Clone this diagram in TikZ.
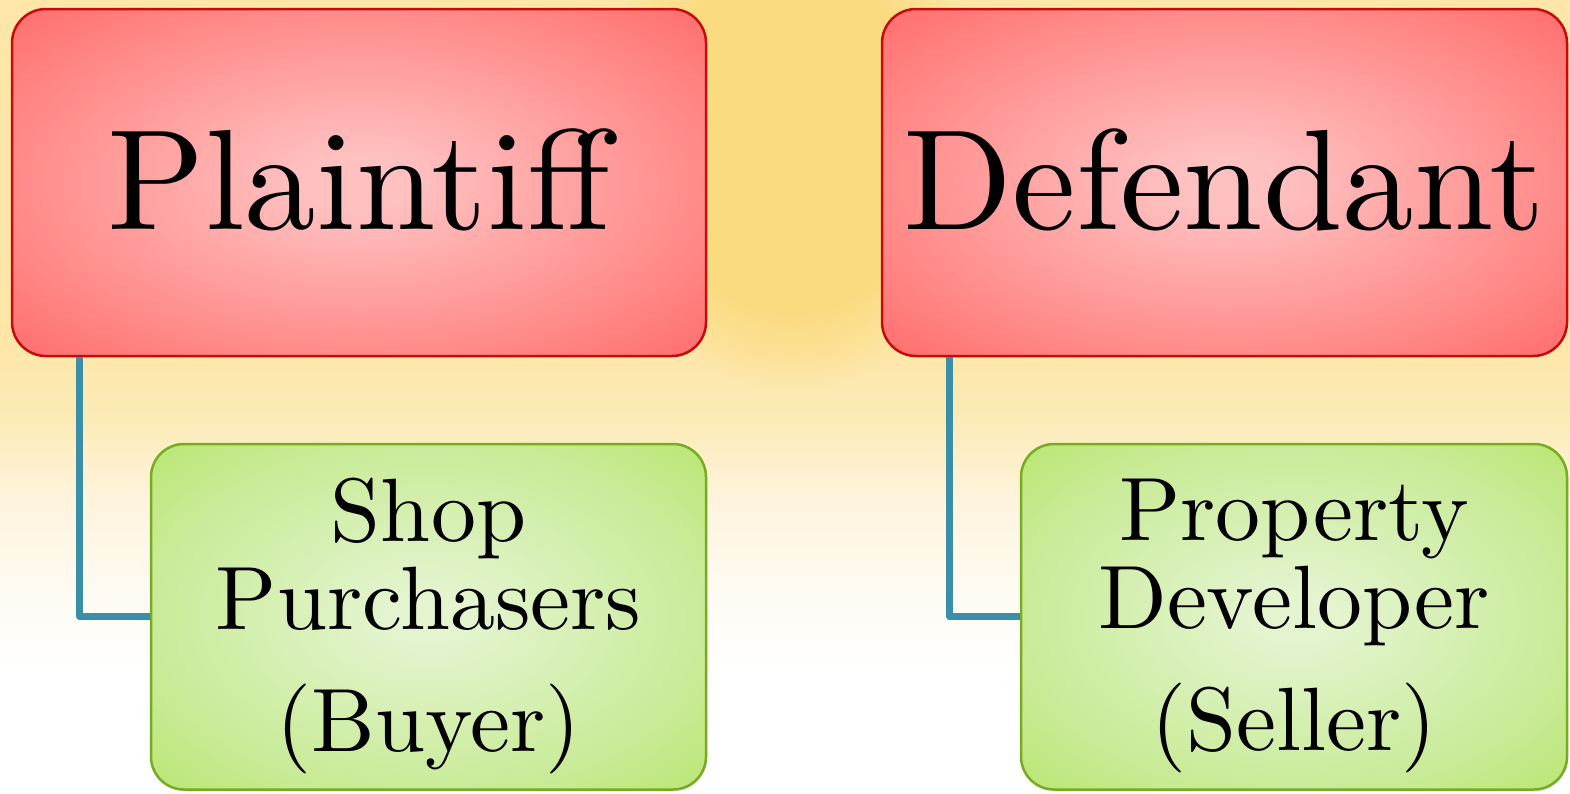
\documentclass[tikz,border=0pt]{standalone}
\usepackage{fontspec}
\setmainfont{lmroman10-regular.otf}
\usetikzlibrary{fadings,shadows}

% palette
\definecolor{bgtop}{HTML}{FDE6A8}
\definecolor{bgA}{HTML}{FCEBB8}
\definecolor{bgB}{HTML}{FEF4DD}
\definecolor{bgC}{HTML}{FEFAF0}
\definecolor{glowc}{HTML}{FBDA7C}
\definecolor{redmid}{HTML}{FFC0C0}
\definecolor{rededge}{HTML}{FF8A88}
\definecolor{redcorner}{HTML}{FF6C6C}
\definecolor{redline}{HTML}{C80A0A}
\definecolor{grnmid}{HTML}{E3F4CE}
\definecolor{grnedge}{HTML}{C9EB98}
\definecolor{grncorner}{HTML}{B9E672}
\definecolor{grnline}{HTML}{76AC20}
\definecolor{linkc}{HTML}{3A8FA8}

% box fills: light centre, stronger rim
\pgfdeclareradialshading{redglow}{\pgfpoint{0bp}{0bp}}{color(0bp)=(redmid); color(4bp)=(redmid); color(25bp)=(rededge); color(36bp)=(redcorner); color(50bp)=(redcorner)}
\pgfdeclareradialshading{greenglow}{\pgfpoint{0bp}{0bp}}{color(0bp)=(grnmid); color(4bp)=(grnmid); color(25bp)=(grnedge); color(36bp)=(grncorner); color(50bp)=(grncorner)}
% page backdrop: warm top fading to white at the bottom
\pgfdeclareverticalshading{backdrop}{100bp}{color(0bp)=(white); color(33bp)=(white); color(38.4bp)=(bgC); color(43.5bp)=(bgB); color(48.5bp)=(bgA); color(53bp)=(bgtop); color(100bp)=(bgtop)}
% soft-edged mask with a wide flat core for the central warm patch
\pgfdeclareradialshading{flatglowmask}{\pgfpoint{0bp}{0bp}}{color(0bp)=(white); color(17bp)=(white); color(25bp)=(black); color(50bp)=(black)}
\pgfdeclarefading{flatglow}{\pgfuseshading{flatglowmask}}

\begin{document}
\begin{tikzpicture}[x=1pt,y=-1pt,
  redbox/.style={draw=redline, line width=2.5pt, rounded corners=34pt,
    shade, shading=redglow, inner sep=0pt, minimum height=347pt,
    text depth=7pt, font=\fontsize{143}{143}\selectfont},
  greenbox/.style={draw=grnline, line width=2.5pt, rounded corners=33pt,
    shade, shading=greenglow, inner sep=0pt, minimum height=345.5pt,
    drop shadow={shadow xshift=1.2pt, shadow yshift=-1.5pt, opacity=0.22}},
  greentext/.style={inner sep=0pt, align=center,
    font=\fontsize{90}{88}\selectfont},
  link/.style={draw=linkc, line width=7pt, line join=round}]

\useasboundingbox (0,0) rectangle (1570,793);

% backdrop
\shade[shading=backdrop] (0,0) rectangle (1570,793);
\fill[glowc, path fading=flatglow, fill opacity=0.9] (792,140) ellipse [x radius=200, y radius=250];

% parties
\node[redbox, minimum width=694pt] (plaintiff) at (359,182.5) {Plaintiff};
\node[redbox, minimum width=685pt] (defendant) at (1224.5,182.5) {Defendant};

% who they are
\node[greenbox, minimum width=555pt] (buyerbox) at (428.5,616.75) {};
\node[greenbox, minimum width=546pt] (sellerbox) at (1294,616.75) {};
\node[greentext] (buyer) at (buyerbox.center) [yshift=-9pt] {Shop\\Purchasers\\[34pt](Buyer)};
\node[greentext] (seller) at (sellerbox.center) [yshift=-9pt] {Property\\Developer\\[34pt](Seller)};

% connectors
\draw[link] ([xshift=69pt]plaintiff.south west) |- (buyerbox.west);
\draw[link] ([xshift=69pt]defendant.south west) |- (sellerbox.west);
\end{tikzpicture}
\end{document}
